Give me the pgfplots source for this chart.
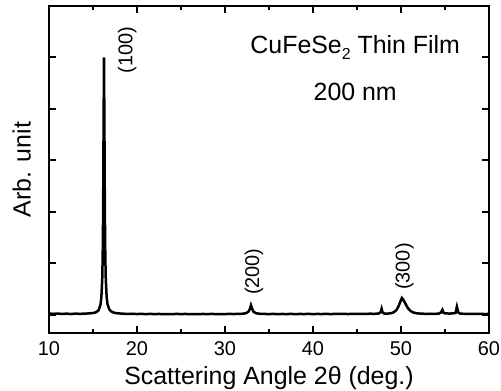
\documentclass[border=0pt]{standalone}
\usepackage{pgfplots}
\pgfplotsset{compat=1.18}
\usepackage{fontspec}
\setmainfont{Liberation Sans}
\pgfplotstableread{
x y
10.0 0.030
10.5 0.022
11.0 0.028
11.5 0.020
12.0 0.026
12.5 0.018
13.0 0.027
13.5 0.022
14.0 0.026
14.5 0.030
15.0 0.038
15.25 0.048
15.45 0.065
15.65 0.095
15.85 0.20
15.95 0.34
16.05 0.70
16.1 1.12
16.15 1.97
16.2 3.60
16.25 5.00
16.3 3.60
16.35 1.97
16.4 1.12
16.45 0.71
16.55 0.35
16.65 0.21
16.85 0.11
17.05 0.07
17.3 0.050
17.6 0.036
18.0 0.030
18.5 0.024
19.0 0.020
19.5 0.024
20.0 0.018
20.5 0.022
21.0 0.016
21.5 0.021
22.0 0.017
22.5 0.020
23.0 0.015
23.5 0.019
24.0 0.016
24.5 0.021
25.0 0.017
25.5 0.020
26.0 0.016
26.5 0.019
27.0 0.015
27.5 0.020
28.0 0.017
28.5 0.021
29.0 0.016
29.5 0.019
30.0 0.017
30.5 0.021
31.0 0.018
31.5 0.022
32.0 0.024
32.4 0.035
32.7 0.07
32.85 0.13
32.95 0.19
33.05 0.14
33.2 0.07
33.5 0.035
33.9 0.024
34.5 0.020
35.0 0.017
35.5 0.021
36.0 0.016
36.5 0.020
37.0 0.017
37.5 0.021
38.0 0.016
38.5 0.020
39.0 0.018
39.5 0.021
40.0 0.017
40.5 0.020
41.0 0.018
41.5 0.022
42.0 0.017
42.5 0.021
43.0 0.019
43.5 0.022
44.0 0.018
44.5 0.022
45.0 0.020
45.5 0.023
46.0 0.021
46.5 0.025
47.0 0.022
47.5 0.030
47.7 0.060
47.8 0.120
47.9 0.050
48.1 0.028
48.5 0.027
48.9 0.035
49.2 0.055
49.5 0.10
49.75 0.18
49.95 0.27
50.1 0.33
50.25 0.30
50.5 0.22
50.8 0.13
51.1 0.075
51.4 0.048
51.8 0.032
52.3 0.026
52.8 0.022
53.3 0.024
53.8 0.022
54.3 0.026
54.55 0.050
54.7 0.100
54.85 0.040
55.1 0.030
55.5 0.028
55.9 0.030
56.2 0.040
56.35 0.160
56.5 0.050
56.7 0.028
57.0 0.024
57.5 0.021
58.0 0.023
58.5 0.019
59.0 0.022
59.5 0.018
60.0 0.020
}\xrd
\begin{document}
\begin{tikzpicture}
\begin{axis}[
  name=ax,
  width=440bp, height=327bp, scale only axis,
  xmin=10, xmax=60, ymin=-0.35, ymax=6.0,
  xtick={10,20,...,60}, minor x tick num=1,
  ytick={0,1,2,3,4,5}, yticklabels={},
  tick pos=both, tick align=inside,
  major tick length=7bp, minor tick length=4bp,
  axis line style={line width=2.5bp},
  every tick/.style={black, line width=2bp},
  /pgf/number format/assume math mode=true,
  xticklabel style={font=\fontsize{20}{20}\selectfont, yshift=-5bp},
  xlabel={Scattering Angle 2θ (deg.)},
  xlabel style={font=\fontsize{25}{25}\selectfont, yshift=-4bp},
  ylabel={Arb. unit},
  ylabel style={font=\fontsize{25}{25}\selectfont, at={(axis description cs:-0.041,0.5)}, anchor=south, inner sep=0pt},
  clip=false,
]
\addplot[black, line width=2.5bp] table[x=x, y=y] {\xrd};
\node[font=\fontsize{20}{20}\selectfont, rotate=90] at (axis cs:18.9,5.15) {(100)};
\node[font=\fontsize{20}{20}\selectfont, rotate=90] at (axis cs:33.3,0.84) {(200)};
\node[font=\fontsize{20}{20}\selectfont, rotate=90] at (axis cs:50.4,0.94) {(300)};
\node[font=\fontsize{25}{25}\selectfont] at (axis cs:44.8,5.19) {CuFeSe\raisebox{-6bp}{\fontsize{16}{16}\selectfont 2} Thin Film};
\node[font=\fontsize{25}{25}\selectfont] at (axis cs:44.8,4.33) {200 nm};
\end{axis}
\pgfresetboundingbox
\path[use as bounding box] (ax.south west) ++(-49bp,-58bp) rectangle ++(501bp,391bp);
\end{tikzpicture}
\end{document}
